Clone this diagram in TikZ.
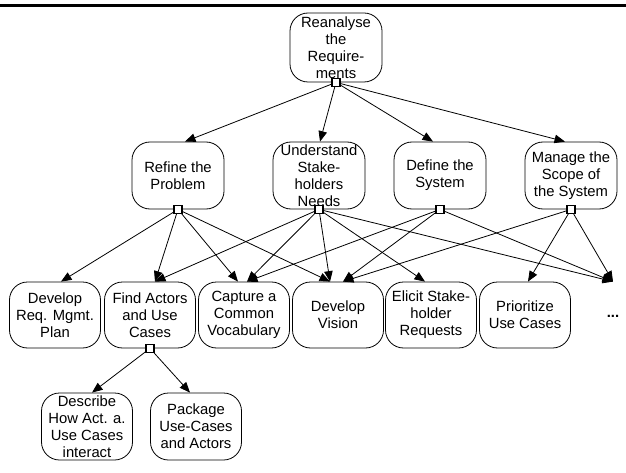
\documentclass[tikz,border=0pt]{standalone}
\usepackage{fontspec}
\setmainfont{Liberation Sans}
\usepackage{tikz}
\usetikzlibrary{arrows.meta,calc,positioning}

\begin{document}
\begin{tikzpicture}[x=1pt,y=-1pt,line width=0.8pt,
    -{Triangle[length=10.5pt,width=8.5pt]}, shorten >=0pt]
    \tikzstyle{task}=[draw,rounded corners=18pt,align=center,inner sep=0pt,
      minimum width=92pt,minimum height=67pt,
      font=\fontsize{14.8}{17}\selectfont];
    \tikzstyle{port}=[draw,fill=white,line width=1.2pt,minimum size=8pt,inner sep=0pt];
    \useasboundingbox (0,0) rectangle (626,473);

    % Draw the rule on top
    \draw[-,line width=3pt] (0,5.5) -- (626,5.5);

    % Draw the top task
    \node[task, minimum height=69pt] (top) at (336,47.5) {Reanalyse\\the\\Require-\\ments};

    % Draw the middle tasks
    \node[task] (refine) at (178,175.5) {Refine the\\Problem};
    \node[task] (understand) at (319,175.5) {Understand\\Stake-\\holders\\Needs};
    \node[task] (define) at (440,175.5) {Define the\\System};
    \node[task] (manage) at (571,175.5) {Manage the\\Scope of\\the System};

    % Draw the bottom tasks
    \foreach \name/\x/\txt in {devplan/55/{Develop\\Req. Mgmt.\\Plan},
        actors/150/{Find Actors\\and Use\\Cases},
        vocab/244/{Capture a\\Common\\Vocabulary},
        vision/338/{Develop\\Vision},
        elicit/431/{Elicit Stake-\\holder\\Requests},
        prio/525/{Prioritize\\Use Cases}}
    \node[task, minimum width=91pt, minimum height=66pt] (\name) at (\x,315) {\txt};
    \node[task, draw=none, minimum width=20pt, minimum height=66pt] (more) at (613,315) {\raisebox{-4pt}{\textbf{...}}};

    % Draw the sub tasks of Find Actors
    \node[task, minimum width=91pt] (describe) at (87,426.5) {Describe\\How Act. a.\\Use Cases\\interact};
    \node[task, minimum width=91pt] (package) at (196,426.5) {Package\\Use-Cases\\and Actors};

    % Draw the ports
    \foreach \name in {top,refine,understand,define,manage,actors}
    \node[port] (port-\name) at (\name.south) {};

    % Connect the top task with the middle tasks
    \foreach \dest/\dx in {refine/7,understand/1,define/-7,manage/-6}
    \draw (port-top) -- ([xshift=\dx pt]\dest.north);

    % Connect the middle tasks with the bottom tasks
    \foreach \source/\dest/\dx in {refine/devplan/6,refine/actors/5,refine/vocab/-6,refine/vision/-8,
        understand/actors/5,understand/vocab/3,understand/vision/-8,understand/elicit/-6,understand/more/0,
        define/vocab/3,define/vision/5,define/more/0,
        manage/vision/5,manage/prio/3,manage/more/0}
    \draw (port-\source) -- ([xshift=\dx pt]\dest.north);

    % Connect Find Actors with its sub tasks
    \draw (port-actors) -- ([xshift=5pt]describe.north);
    \draw (port-actors) -- ([xshift=-6pt]package.north);
\end{tikzpicture}
\end{document}
